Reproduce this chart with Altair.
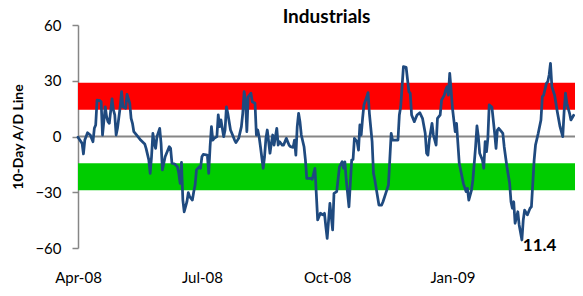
import altair as alt
import pandas as pd

# ---------------- data ----------------
start_date = "2008-04-01"
end_date = "2009-04-01"

# calendar days after 2008-04-01
day_offsets = [
    0, 3, 4, 5, 7, 9, 11, 12, 13, 14, 16, 17, 18, 20, 21, 22, 23, 25, 26, 27,
    28, 29, 31, 32, 33, 35, 36, 38, 39, 40, 41, 44, 46, 49, 50, 52, 53, 54, 55, 56,
    57, 58, 60, 61, 62, 63, 64, 67, 68, 69, 71, 73, 74, 75, 76, 77, 78, 79, 80, 81,
    82, 84, 85, 86, 87, 89, 90, 91, 92, 95, 96, 97, 98, 99, 100, 102, 103, 104, 105, 107,
    108, 109, 110, 112, 113, 115, 116, 118, 120, 121, 122, 123, 124, 125, 127, 128, 130, 131, 132, 133,
    134, 136, 137, 138, 139, 141, 142, 143, 144, 146, 147, 148, 150, 151, 153, 155, 156, 158, 159, 160,
    161, 162, 163, 164, 166, 167, 168, 171, 172, 174, 175, 176, 178, 180, 181, 182, 183, 185, 187, 188,
    190, 192, 194, 195, 196, 197, 199, 201, 202, 203, 205, 206, 207, 208, 209, 210, 212, 213, 214, 216,
    217, 218, 219, 221, 223, 224, 226, 228, 230, 231, 234, 235, 236, 237, 238, 239, 241, 243, 244, 245,
    247, 248, 249, 251, 253, 255, 256, 257, 258, 260, 261, 263, 264, 266, 267, 269, 270, 271, 272, 273,
    274, 275, 276, 277, 278, 280, 282, 283, 285, 286, 287, 289, 290, 292, 293, 294, 295, 297, 298, 299,
    300, 301, 302, 303, 304, 306, 307, 308, 309, 311, 312, 313, 315, 317, 318, 319, 320, 321, 323, 324,
    326, 327, 328, 330, 332, 333, 335, 336, 338, 340, 341, 342, 344, 345, 346, 347, 348, 350, 352, 354,
    356, 357, 358, 359, 361, 362, 364,
]

ad_values = [
    -0.4, -3.7, -9.4, -1.9, 2.0, 0.8, -2.8, 4.4, 6.2, 19.6, 19.3, 18.7, 0.8, 16.0, 10.7, 8.0, 7.1, 20.3, 14.3, 11.6,
    0.8, 4.4, 16.0, 24.1, 16.0, 15.2, 22.7, 17.9, 9.8, 7.1, 2.6, -0.1, -1.9, -4.0, -6.4, -12.6, -19.8, -10.9, 1.7, -3.7,
    -6.4, -0.1, 4.4, -3.7, -18.0, -14.4, -10.9, -5.5, -6.4, -14.4, -14.8, -16.3, -19.8, -25.2, -13.9, -34.2, -40.5, -37.8, -35.1, -30.2,
    -32.4, -34.2, -29.7, -26.1, -18.0, -16.3, -17.1, -10.9, -9.6, -10.0, -19.8, -5.5, 5.3, -1.9, -1.0, -0.1, 11.6, 5.3, 8.9, -0.1,
    3.5, 16.0, 12.5, 3.5, 1.7, -1.9, -3.3, -1.0, 5.3, 12.5, 24.1, 19.6, 2.6, 21.4, 23.3, 18.7, 17.9, 0.8, 3.5, -0.1,
    -5.5, -17.1, -10.9, -1.0, 3.5, -9.0, -3.7, 0.8, -4.6, 4.4, -4.6, -2.8, -4.6, -4.6, -1.0, -4.6, -5.5, -5.8, -1.9, -10.0,
    5.3, 12.5, 8.0, 0.8, -5.5, -12.6, -22.5, -22.5, -23.0, -17.1, -30.6, -44.9, -41.3, -42.2, -41.3, -48.5, -54.8, -36.0, -50.3, -30.6,
    -29.7, -16.3, -13.6, -17.1, -13.6, -23.4, -37.8, -12.6, -12.3, -1.0, -2.8, -7.3, 6.2, 0.8, 9.8, 17.0, 21.1, 23.6, 12.5, -2.8,
    -19.8, -23.4, -27.9, -36.9, -36.9, -35.1, -30.6, -26.1, 1.7, -1.9, -1.9, -1.9, 11.6, 16.0, 26.8, 37.6, 37.2, 24.1, 23.3, 11.6,
    8.0, 9.8, 11.6, 12.8, 9.8, 1.7, -9.0, -10.0, -1.9, 7.1, 0.8, -4.6, 9.8, 11.6, 19.6, 22.3, 25.0, 26.8, 22.3, 34.0,
    25.0, 15.2, 8.9, 2.6, 7.1, -14.4, -21.6, -25.2, -29.7, -27.9, -34.2, -28.8, -23.4, -5.5, 5.7, -0.1, -9.0, -12.6, -17.1, -2.8,
    -8.2, -1.0, 17.0, 16.4, 15.7, 1.7, -6.4, 3.5, 4.4, 2.6, 1.7, -5.5, -16.3, -25.2, -35.1, -38.6, -35.1, -46.7, -40.5, -47.6,
    -55.7, -44.9, -39.6, -42.2, -38.6, -37.8, -12.6, -4.6, 1.7, 8.9, 21.4, 22.3, 28.6, 29.5, 33.1, 39.4, 26.8, 22.3, 13.3, 5.3,
    -0.1, 13.3, 23.3, 17.9, 12.5, 8.9, 11.4,
]

tick_dates = [(2008, 4, 1), (2008, 7, 1), (2008, 10, 1), (2009, 1, 1)]
y_ticks = [-60, -30, 0, 30, 60]

band_low = [14.4, -28.9]
band_high = [28.9, -14.4]
band_colors = ["#ff0000", "#00cc00"]

annotation_text = ["11.4"]
annotation_day = [339]
annotation_value = [-59]

# ---------------- tables ----------------
t0 = pd.Timestamp(start_date)
t1 = pd.Timestamp(end_date)
line_df = pd.DataFrame({
    "date": t0 + pd.to_timedelta(day_offsets, unit="D"),
    "value": ad_values,
})
band_df = pd.DataFrame({
    "date": [t0] * len(band_low),
    "end": [t1] * len(band_low),
    "value": band_low,
    "high": band_high,
    "color": band_colors,
})
zero_df = pd.DataFrame({"date": [t0], "end": [t1], "value": [0]})
ann_df = pd.DataFrame({
    "date": t0 + pd.to_timedelta(annotation_day, unit="D"),
    "value": annotation_value,
    "label": annotation_text,
})


def dt(ts):
    return alt.DateTime(year=ts.year, month=ts.month, date=ts.day)


x_scale = alt.Scale(domain=[dt(t0), dt(t1)])
y_scale = alt.Scale(domain=[-60, 60], nice=False, zero=False)

FONT = "Lato"

x_axis = alt.Axis(
    values=[alt.DateTime(year=y, month=m, date=d) for (y, m, d) in tick_dates],
    format="%b-%y", domain=False, ticks=False, grid=False,
    labelFont=FONT, labelFontSize=15, labelColor="#000000",
    labelPadding=22, labelFlush=False, labelOverlap=False, title=None,
)
y_axis = alt.Axis(
    values=y_ticks, grid=False,
    domainColor="#868686", domainWidth=1.5,
    tickColor="#868686", tickSize=6, tickWidth=1.5,
    labelFont=FONT, labelFontSize=15, labelColor="#000000", labelPadding=11,
    title="10-Day A/D Line", titleFont=FONT, titleFontSize=14, titleFontWeight="bold",
    titleColor="#000000", titleX=-60, titleY=111.5, titleAngle=270,
    titleAlign="center", titleBaseline="middle",
)

X = alt.X("date:T", scale=x_scale, axis=x_axis)
Y = alt.Y("value:Q", scale=y_scale, axis=y_axis)

bands = alt.Chart(band_df).mark_rect().encode(
    x=X, x2="end:T", y=Y, y2="high:Q",
    color=alt.Color("color:N", scale=None),
)

zero_line = alt.Chart(zero_df).mark_rule(color="#868686", strokeWidth=2).encode(
    x=X, x2="end:T", y=Y,
)

line = alt.Chart(line_df).mark_line(
    color="#1f4a7f", strokeWidth=2.75, strokeJoin="round", strokeCap="round"
).encode(x=X, y=Y)

label = alt.Chart(ann_df).mark_text(
    font=FONT, fontSize=17, fontWeight="bold", color="#000000",
    align="center", baseline="middle",
).encode(x=X, y=Y, text="label:N")

chart = alt.layer(bands, zero_line, line, label).properties(
    width=497,
    height=223,
    title=alt.TitleParams(
        "Industrials", font=FONT, fontSize=19, fontWeight="bold",
        color="#000000", anchor="middle", offset=-9,
    ),
    autosize=alt.AutoSizeParams(type="none"),
    padding={"left": 70, "top": 17, "right": 0, "bottom": 39},
).configure_view(stroke=None)

chart.save("out.html", embed_options={"renderer": "svg", "actions": False})
